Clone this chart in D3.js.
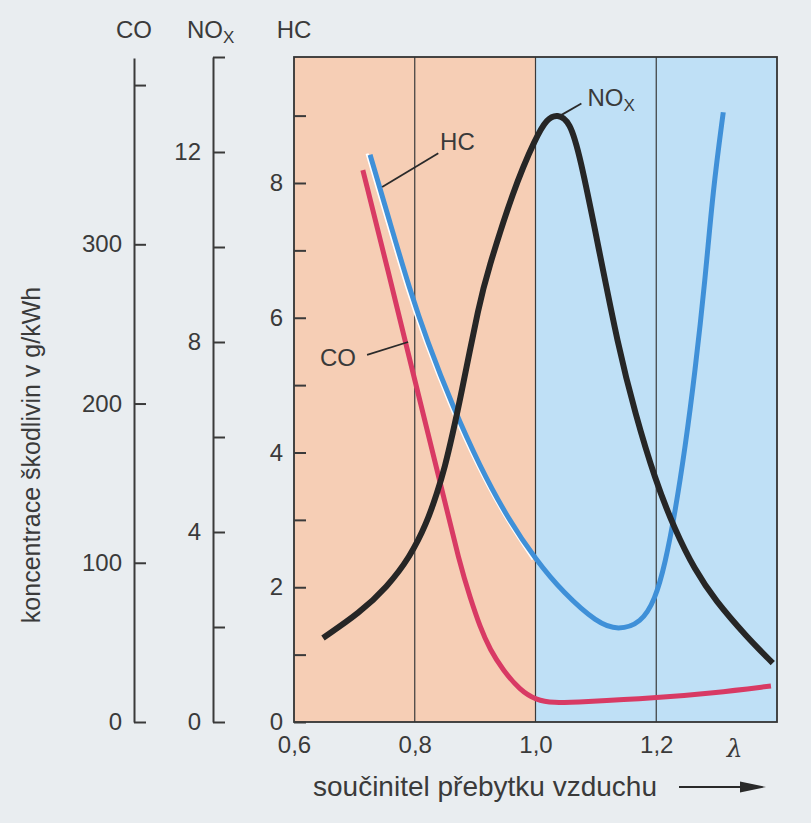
<!DOCTYPE html>
<html><head><meta charset="utf-8">
<script src="https://cdn.jsdelivr.net/npm/d3@7"></script>
<style>
html,body{margin:0;padding:0;background:#e9edf0;}
svg{display:block;font-family:"Liberation Sans",Arial,sans-serif;}
</style></head>
<body>
<svg id="chart" width="811" height="823"></svg>
<script>
// ---- data ----
const xTicks = [0.6, 0.8, 1.0, 1.2];
const xTickLabels = ["0,6", "0,8", "1,0", "1,2"];
const gridLambda = [0.8, 1.0, 1.2];
const coTicks = [0, 100, 200, 300, 400];
const coTickLabels = ["0", "100", "200", "300", ""];
const noxTicks = [0, 2, 4, 6, 8, 10, 12, 14];
const noxTickLabels = ["0", "", "4", "", "8", "", "12", ""];
const hcTicks = [0, 1, 2, 3, 4, 5, 6, 7, 8, 9];
const hcTickLabels = ["0", "", "2", "", "4", "", "6", "", "8", ""];

const coLambda = [0.714, 0.756, 0.797, 0.842, 0.875, 0.892, 0.908, 0.925, 0.946, 0.974, 1.001, 1.029, 1.074, 1.2, 1.294, 1.39];
const coValues = [346.6, 283.2, 219.2, 150.7, 98.6, 77.9, 59.7, 45.2, 32.7, 20.1, 13.8, 11.9, 12.6, 15.1, 18.2, 22.6];

const hcLambda = [0.726, 0.759, 0.792, 0.820, 0.863, 0.908, 0.953, 1.001, 1.046, 1.102, 1.137, 1.175, 1.198, 1.215, 1.231, 1.248, 1.264, 1.281, 1.294, 1.311];
const hcValues = [8.42, 7.41, 6.41, 5.67, 4.68, 3.79, 3.04, 2.40, 1.92, 1.47, 1.36, 1.47, 1.81, 2.36, 3.10, 4.08, 5.18, 6.56, 7.90, 9.05];

const noxLambda = [0.648, 0.709, 0.754, 0.792, 0.820, 0.837, 0.850, 0.863, 0.875, 0.908, 0.920, 0.963, 1.001, 1.019, 1.036, 1.057, 1.074, 1.102, 1.137, 1.165, 1.198, 1.231, 1.264, 1.297, 1.350, 1.393];
const noxValues = [1.77, 2.30, 2.84, 3.47, 4.19, 4.82, 5.37, 6.08, 6.78, 8.88, 9.45, 11.2, 12.32, 12.7, 12.8, 12.65, 11.9, 10.15, 7.9, 6.5, 5.1, 4.04, 3.2, 2.57, 1.79, 1.24];

const axisNames = ["CO", "NO", "HC"];
const xTitle = "součinitel přebytku vzduchu";
const yTitle = "koncentrace škodlivin v g/kWh";

// ---- layout ----
const plot = {left: 294, right: 777, top: 57, bottom: 722};
const coAxisX = 134, noxAxisX = 213;
const textColor = "#3a3a3a";
const fontSize = 24;

const svg = d3.select("#chart");
const x = d3.scaleLinear().domain([0.6, 1.4]).range([plot.left, plot.right]);
const yHC = d3.scaleLinear().domain([0, 9.87]).range([plot.bottom, plot.top]);
const yNOx = d3.scaleLinear().domain([0, 14]).range([plot.bottom, plot.top]);
const yCO = d3.scaleLinear().domain([0, 417]).range([plot.bottom, 58]);

// background regions
svg.append("rect").attr("x", x(0.6)).attr("y", plot.top)
  .attr("width", x(1.0) - x(0.6)).attr("height", plot.bottom - plot.top)
  .attr("fill", "#f6ceb5");
svg.append("rect").attr("x", x(1.0)).attr("y", plot.top)
  .attr("width", x(1.4) - x(1.0)).attr("height", plot.bottom - plot.top)
  .attr("fill", "#bfe0f6");

// grid lines
svg.selectAll("line.grid").data(gridLambda).join("line").attr("class", "grid")
  .attr("x1", d => x(d)).attr("x2", d => x(d))
  .attr("y1", plot.top).attr("y2", plot.bottom)
  .attr("stroke", "#3a3a3a").attr("stroke-width", 1.2);

// plot border
svg.append("rect").attr("x", plot.left).attr("y", plot.top)
  .attr("width", plot.right - plot.left).attr("height", plot.bottom - plot.top)
  .attr("fill", "none").attr("stroke", "#333").attr("stroke-width", 1.8);

function styleAxis(g) {
  g.selectAll("path.domain").attr("stroke", "#3a3a3a").attr("stroke-width", 2);
  g.selectAll(".tick line").attr("stroke", "#3a3a3a").attr("stroke-width", 2);
  g.selectAll(".tick text").attr("fill", textColor).attr("font-size", fontSize)
    .attr("font-family", "Liberation Sans, Arial, sans-serif");
}

// CO axis
const gCO = svg.append("g").attr("transform", `translate(${coAxisX},0)`)
  .call(d3.axisLeft(yCO).tickValues(coTicks).tickFormat((d, i) => coTickLabels[i])
    .tickSizeInner(-12).tickSizeOuter(0).tickPadding(12));
styleAxis(gCO);

// NOx axis
const gNOx = svg.append("g").attr("transform", `translate(${noxAxisX},0)`)
  .call(d3.axisLeft(yNOx).tickValues(noxTicks).tickFormat((d, i) => noxTickLabels[i])
    .tickSizeInner(-12).tickSizeOuter(0).tickPadding(12));
styleAxis(gNOx);

// HC axis
const gHC = svg.append("g").attr("transform", `translate(${plot.left},0)`)
  .call(d3.axisLeft(yHC).tickValues(hcTicks).tickFormat((d, i) => hcTickLabels[i])
    .tickSizeInner(-12).tickSizeOuter(0).tickPadding(11));
styleAxis(gHC);
gHC.select("path.domain").remove();

// x axis labels
const gX = svg.append("g").attr("transform", `translate(0,${plot.bottom})`)
  .call(d3.axisBottom(x).tickValues(xTicks).tickFormat((d, i) => xTickLabels[i])
    .tickSize(0).tickPadding(14));
gX.select("path.domain").remove();
gX.selectAll(".tick text").attr("fill", textColor).attr("font-size", fontSize)
  .attr("font-family", "Liberation Sans, Arial, sans-serif")
  .attr("dy", "0.71em");
// lambda symbol
svg.append("text").attr("x", x(1.33)).attr("y", 757).attr("text-anchor", "middle")
  .attr("font-size", 25).attr("font-style", "italic").attr("fill", textColor)
  .attr("font-family", "DejaVu Serif, serif").text("λ");

// x title + arrow
svg.append("text").attr("x", 313).attr("y", 796).attr("font-size", 28)
  .attr("fill", textColor).text(xTitle);
svg.append("line").attr("x1", 679).attr("x2", 744).attr("y1", 787).attr("y2", 787)
  .attr("stroke", "#2a2a2a").attr("stroke-width", 2);
svg.append("path").attr("d", "M740,781.5 L766,787 L740,792.5 Z").attr("fill", "#2a2a2a");

// y title
svg.append("text").attr("transform", "translate(40,455) rotate(-90)")
  .attr("text-anchor", "middle").attr("font-size", 25).attr("fill", textColor).text(yTitle);

// axis names at top
const nameY = 38;
svg.append("text").attr("x", coAxisX).attr("y", nameY).attr("text-anchor", "middle")
  .attr("font-size", fontSize).attr("fill", textColor).text(axisNames[0]);
const noxName = svg.append("text").attr("x", 187).attr("y", nameY)
  .attr("font-size", fontSize).attr("fill", textColor);
noxName.append("tspan").text(axisNames[1]);
noxName.append("tspan").attr("font-size", 17).attr("dy", 5).text("X");
svg.append("text").attr("x", plot.left).attr("y", nameY).attr("text-anchor", "middle")
  .attr("font-size", fontSize).attr("fill", textColor).text(axisNames[2]);

// curves
const curve = d3.curveBasis;
const coData = coLambda.map((l, i) => [l, coValues[i]]);
const hcData = hcLambda.map((l, i) => [l, hcValues[i]]);
const noxData = noxLambda.map((l, i) => [l, noxValues[i]]);

// white highlight on HC
const hcWhite = hcData.filter(d => d[0] <= 1.01);
svg.append("path").datum(hcWhite)
  .attr("d", d3.line().x(d => x(d[0])).y(d => yHC(d[1])).curve(curve))
  .attr("transform", "translate(-3,-1)")
  .attr("fill", "none").attr("stroke", "#ffffff").attr("stroke-width", 3);

svg.append("path").datum(coData)
  .attr("d", d3.line().x(d => x(d[0])).y(d => yCO(d[1])).curve(curve))
  .attr("fill", "none").attr("stroke", "#d83a64").attr("stroke-width", 5);
svg.append("path").datum(hcData)
  .attr("d", d3.line().x(d => x(d[0])).y(d => yHC(d[1])).curve(curve))
  .attr("fill", "none").attr("stroke", "#3f90d8").attr("stroke-width", 5);
svg.append("path").datum(noxData)
  .attr("d", d3.line().x(d => x(d[0])).y(d => yNOx(d[1])).curve(curve))
  .attr("fill", "none").attr("stroke", "#262626").attr("stroke-width", 6);

// annotations (positions in lambda / HC-scale units)
const annotations = [
  {label: "NO", sub: "X", tx: 1.086, ty: 9.14, l1: [1.041, 9.0], l2: [1.076, 9.18]},
  {label: "HC", sub: "", tx: 0.842, ty: 8.49, l1: [0.746, 7.94], l2: [0.839, 8.44]},
  {label: "CO", sub: "", tx: 0.643, ty: 5.28, l1: [0.721, 5.45], l2: [0.789, 5.64]}
];
annotations.forEach(a => {
  svg.append("line").attr("x1", x(a.l1[0])).attr("y1", yHC(a.l1[1]))
    .attr("x2", x(a.l2[0])).attr("y2", yHC(a.l2[1]))
    .attr("stroke", "#2a2a2a").attr("stroke-width", 1.8);
  const t = svg.append("text").attr("x", x(a.tx)).attr("y", yHC(a.ty))
    .attr("font-size", fontSize).attr("fill", textColor);
  t.append("tspan").text(a.label);
  if (a.sub) t.append("tspan").attr("font-size", 17).attr("dy", 5).text(a.sub);
});
</script>
</body></html>
